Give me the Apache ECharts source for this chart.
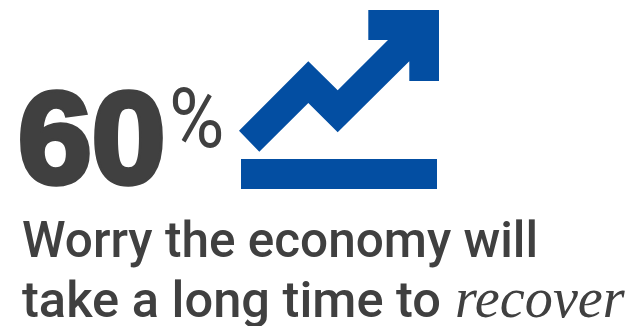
<!DOCTYPE html>
<html>
<head>
<meta charset="utf-8">
<style>html,body{margin:0;padding:0;background:#fff}#main{width:630px;height:326px}</style>
<script src="https://cdn.jsdelivr.net/npm/echarts@6/dist/echarts.min.js"></script>
</head>
<body>
<div id="main"></div>
<script>
// Headline figure and caption
const shareValue = [60];
const shareUnit = ['%'];
const captionTop = ['Worry the economy will'];
const captionBottom = ['take a long time to'];
const captionEmphasis = ['recover'];

const INK = '#404040';
const BLUE = '#034ea2';

// Rising-arrow pictogram outline
const arrowOutline = [
  [368.3,10],[439,10],[439,81],[409.3,81],[409.3,61.3],[337.7,132.3],[308.3,103],
  [259.3,151.7],[239,130.7],[308.3,61.3],[337.7,90.3],[388,40],[368.3,40]
];
const baseBar = { x: 241, y: 159, width: 196, height: 30 };

const chart = echarts.init(document.getElementById('main'), null, { renderer: 'canvas' });
chart.setOption({
  animation: false,
  backgroundColor: '#fff',
  graphic: { elements: [
    { type: 'polygon', shape: { points: arrowOutline }, style: { fill: BLUE } },
    { type: 'rect', shape: baseBar, style: { fill: BLUE } },
    { type: 'text', x: 18, y: 212.5, scaleX: 1.02, style: {
        text: String(shareValue[0]), font: 'bold 130px "Liberation Sans"', fill: INK,
        stroke: INK, lineWidth: 5.5, textVerticalAlign: 'bottom' } },
    { type: 'text', x: 169, y: 168, scaleX: 0.9, style: {
        text: shareUnit[0], font: '400 84px Roboto', fill: INK, textVerticalAlign: 'bottom' } },
    { type: 'text', x: 22, y: 269, scaleX: 0.99, style: {
        text: captionTop[0], font: '500 50px Roboto', fill: INK, textVerticalAlign: 'bottom' } },
    { type: 'text', x: 22, y: 329, scaleX: 1.012, style: {
        text: captionBottom[0], font: '500 50px Roboto', fill: INK, textVerticalAlign: 'bottom' } },
    { type: 'text', x: 455, y: 331, scaleX: 0.97, style: {
        text: captionEmphasis[0], font: 'italic 400 58px "Liberation Serif"', fill: INK, textVerticalAlign: 'bottom' } }
  ] }
});
</script>
</body>
</html>
